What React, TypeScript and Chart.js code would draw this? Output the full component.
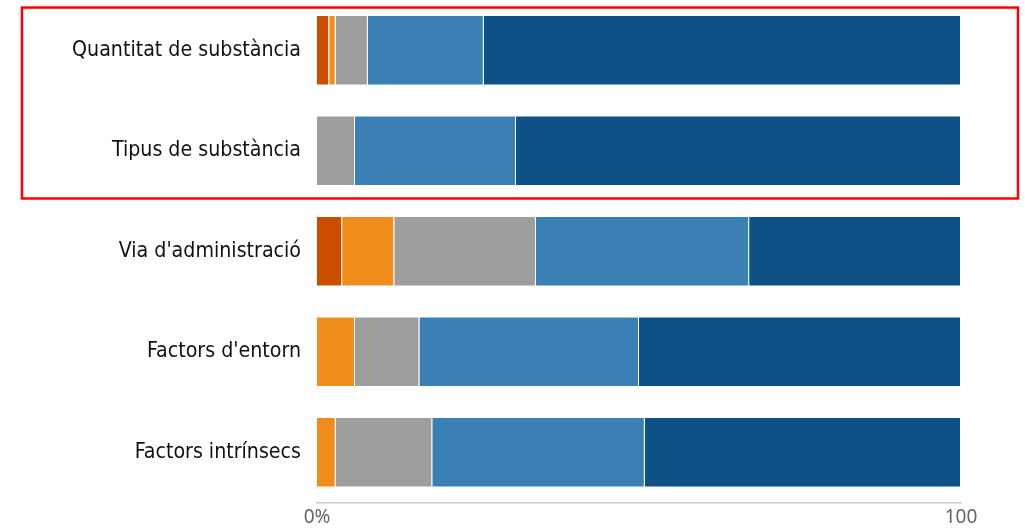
import React, { useEffect, useRef } from "react";
import { Chart, registerables } from "chart.js";

Chart.register(...registerables);

const categories = [
  "Quantitat de substància",
  "Tipus de substància",
  "Via d'administració",
  "Factors d'entorn",
  "Factors intrínsecs",
];

const seriesDarkOrange = [1.9, null, 3.9, null, null];
const seriesOrange = [1.0, null, 8.1, 5.9, 2.9];
const seriesGray = [5.0, 5.9, 22.0, 10.0, 15.0];
const seriesLightBlue = [18.0, 25.0, 33.1, 34.1, 33.0];
const seriesDarkBlue = [74.1, 69.1, 32.9, 50.0, 49.1];

const xTicks = [0, 100];
const xTickLabels = ["0%", "100"];

const highlightedCategories = [0, 1];

const highlightPlugin = {
  id: "highlightBox",
  afterDraw(chart: any) {
    const y = chart.scales.y;
    const catH = (y.bottom - y.top) / categories.length;
    const first = highlightedCategories[0];
    const last = highlightedCategories[highlightedCategories.length - 1];
    const top = y.getPixelForValue(first) - catH * 0.425;
    const bottom = y.getPixelForValue(last) + catH * 0.475;
    const ctx = chart.ctx;
    ctx.save();
    ctx.strokeStyle = "#ff0000";
    ctx.lineWidth = 2.5;
    ctx.strokeRect(22, top, chart.width - 7 - 22, bottom - top);
    ctx.restore();
  },
};

export default function App() {
  const ref = useRef<HTMLCanvasElement | null>(null);

  useEffect(() => {
    if (!ref.current) return;
    const mk = (label: string, data: any[], color: string) => ({
      label,
      data,
      backgroundColor: color,
      borderColor: "rgba(255,255,255,0.85)",
      borderWidth: 1,
      barPercentage: 0.7,
      categoryPercentage: 1,
    });
    const chart = new Chart(ref.current, {
      type: "bar",
      data: {
        labels: categories,
        datasets: [
          mk("1", seriesDarkOrange, "#cb4e00"),
          mk("2", seriesOrange, "#f08c1c"),
          mk("3", seriesGray, "#9e9e9e"),
          mk("4", seriesLightBlue, "#3b80b4"),
          mk("5", seriesDarkBlue, "#0e5186"),
        ],
      },
      options: {
        indexAxis: "y",
        animation: false,
        responsive: false,
        layout: { padding: { left: 0, right: 64, top: 0, bottom: 0 } },
        plugins: {
          legend: { display: false },
          tooltip: { enabled: false },
        },
        scales: {
          x: {
            stacked: true,
            min: 0,
            max: 100,
            afterBuildTicks: (scale: any) => {
              scale.ticks = xTicks.map((v) => ({ value: v }));
            },
            afterFit: (scale: any) => {
              scale.height = 27.5;
              scale.paddingLeft = 0;
              scale.paddingRight = 0;
            },
            grid: { display: false, drawTicks: false },
            border: { display: true, color: "#cccccc", width: 1.5 },
            ticks: {
              color: "#666666",
              padding: 4,
              maxRotation: 0,
              autoSkip: false,
              font: { family: "'Noto Sans'", size: 19 },
              callback: (v: any) => {
                const i = xTicks.indexOf(Number(v));
                return i >= 0 ? xTickLabels[i] : "";
              },
            },
          },
          y: {
            stacked: true,
            afterFit: (scale: any) => {
              scale.width = 317;
              scale.paddingTop = 0;
              scale.paddingBottom = 0;
            },
            grid: { display: false, drawTicks: false },
            border: { display: false },
            ticks: {
              color: "#111111",
              padding: 16,
              font: { family: "'DejaVu Sans Condensed'", size: 21.2 },
            },
          },
        },
      },
      plugins: [highlightPlugin],
    } as any);
    return () => chart.destroy();
  }, []);

  return (
    <div style={{ position: "fixed", left: 0, top: 0, width: 1025, height: 530, background: "#fff" }}>
      <canvas ref={ref} width={1025} height={530} style={{ width: 1025, height: 530 }} />
    </div>
  );
}
